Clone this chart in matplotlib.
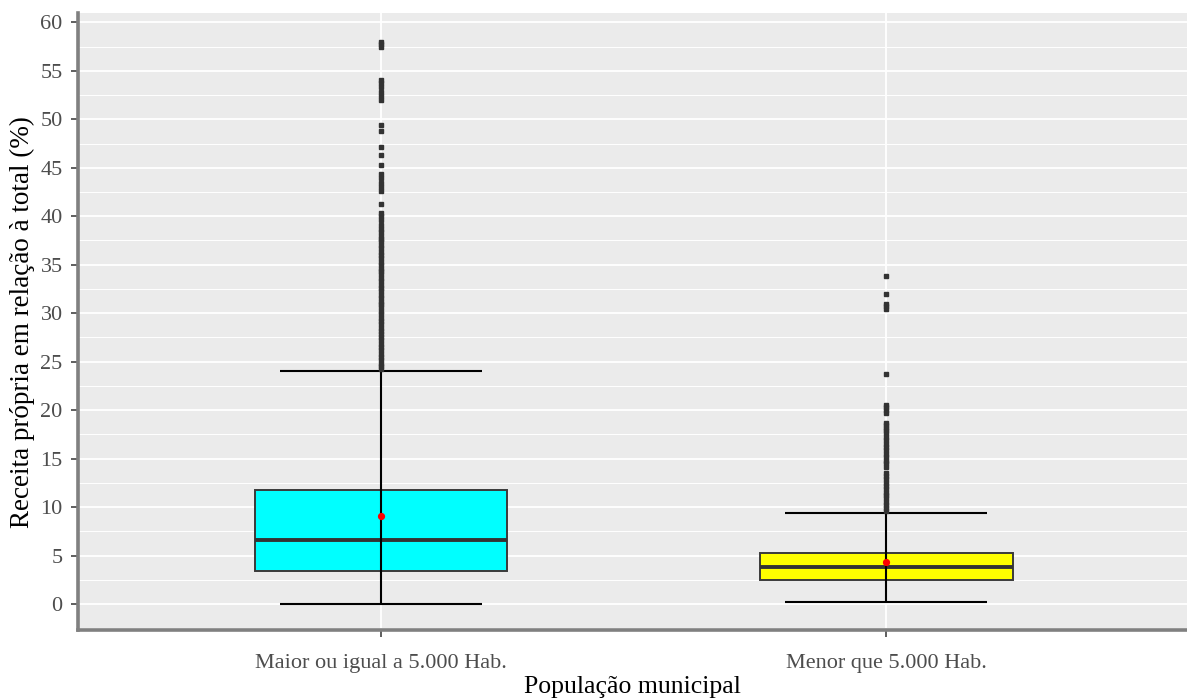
import matplotlib.pyplot as plt
from matplotlib.ticker import MultipleLocator

# ---------------------------------------------------------
#  Data
# ---------------------------------------------------------
categories = ["Maior ou igual a 5.000 Hab.", "Menor que 5.000 Hab."]
box_fill = ["#00FFFF", "#FFFF00"]

q1 = [3.45, 2.45]
median = [6.6, 3.8]
q3 = [11.75, 5.25]
whisker_low = [0.0, 0.2]
whisker_high = [24.0, 9.4]
mean = [9.05, 4.3]

outliers_big = [
    24.2, 24.5, 24.8, 25.2, 25.5, 25.8, 26.2, 26.5, 26.8, 27.2, 27.5, 27.9,
    28.2, 28.5, 28.9, 29.2, 29.5, 29.9, 30.2, 30.6, 30.9, 31.2, 31.6, 31.9,
    32.3, 32.6, 32.9, 33.3, 33.6, 34.0, 34.3, 34.6, 35.0, 35.3, 35.7, 36.0,
    36.3, 36.7, 37.0, 37.4, 37.7, 38.0, 38.4, 38.7, 39.05,
    39.6, 40.0, 40.3, 41.3, 42.6, 43.0, 43.4, 43.9, 44.4, 45.3, 46.3, 47.1,
    48.8, 49.4, 52.0, 52.4, 52.8, 53.3, 53.7, 54.0, 57.5, 57.8, 58.0,
]
outliers_small = [
    9.6, 9.9, 10.2, 10.5, 10.9, 11.2, 11.5, 11.9, 12.2, 12.5, 12.9, 13.2, 13.5,
    14.1, 14.5, 14.8, 15.2, 15.5, 15.9, 16.2, 16.5, 16.9, 17.2, 17.6, 17.9,
    18.2, 18.5, 18.7, 19.7, 20.0, 20.3, 20.5, 23.7, 30.4, 30.7, 30.9, 32.0, 33.8,
]
outliers = [outliers_big, outliers_small]

y_ticks = list(range(0, 61, 5))

# ---------------------------------------------------------
#  Style
# ---------------------------------------------------------
plt.rcParams.update({
    "font.family": "Liberation Serif",
    "font.size": 12,
})

PANEL_BG = "#EBEBEB"
DARK = "#333333"
TICK_TXT = "#4D4D4D"
AXIS_LINE = "#808080"

fig = plt.figure(figsize=(11.87, 7.0), dpi=100)
ax = fig.add_axes([0.0657, 0.1, 0.9343, 0.881])
ax.set_facecolor(PANEL_BG)

positions = [1, 2]
stats = []
for i in range(len(categories)):
    stats.append({
        "label": categories[i],
        "q1": q1[i], "med": median[i], "q3": q3[i],
        "whislo": whisker_low[i], "whishi": whisker_high[i],
        "fliers": [],
    })

bp = ax.bxp(stats, positions=positions, widths=0.5, patch_artist=True,
            showcaps=False, showfliers=False,
            whiskerprops=dict(linewidth=0),
            boxprops=dict(edgecolor="#3A3A3A", linewidth=1.4),
            medianprops=dict(color=DARK, linewidth=2.8),
            zorder=3)
for patch, c in zip(bp["boxes"], box_fill):
    patch.set_facecolor(c)

# error-bar style whiskers drawn through the box
ax.vlines(positions, whisker_low, whisker_high, color="black", lw=1.5, zorder=4)
for i, p in enumerate(positions):
    ax.hlines([whisker_low[i], whisker_high[i]], p - 0.2, p + 0.2,
              color="black", lw=1.5, zorder=4)

# outliers
for p, vals in zip(positions, outliers):
    ax.plot([p] * len(vals), vals, linestyle="none", marker="s", ms=2.8,
            mfc=DARK, mec=DARK, zorder=5)

# means
ax.plot(positions, mean, linestyle="none", marker="o", ms=4.2,
        mfc="red", mec="red", zorder=4.5)

# ---------------------------------------------------------
#  Axes & grid
# ---------------------------------------------------------
ax.set_xlim(0.4, 2.595)
ax.set_ylim(-2.68, 60.93)
ax.set_yticks(y_ticks)
ax.yaxis.set_minor_locator(MultipleLocator(2.5))
ax.set_xticks(positions)
ax.set_xticklabels(categories)

ax.grid(which="major", color="white", lw=1.3)
ax.grid(which="minor", axis="y", color="white", lw=0.7)
ax.set_axisbelow(True)

for s in ["top", "right"]:
    ax.spines[s].set_visible(False)
for s in ["left", "bottom"]:
    ax.spines[s].set_color(AXIS_LINE)
    ax.spines[s].set_linewidth(2.6)

ax.tick_params(which="major", length=5, width=1.1, color=DARK,
               labelcolor=TICK_TXT, labelsize=16)
ax.tick_params(axis="y", pad=6)
ax.tick_params(axis="x", pad=12)
ax.tick_params(which="minor", length=0)

ax.set_xlabel("População municipal", fontsize=18.5, color="black")
ax.set_ylabel("Receita própria em relação à total (%)", fontsize=19.5,
              color="black")
ax.xaxis.label.set_va("center")
ax.yaxis.label.set_va("center")
ax.xaxis.set_label_coords(0.5, -0.0925)
ax.yaxis.set_label_coords(-0.0505, 0.5)

fig.savefig("out.png", dpi=100, facecolor="white")
